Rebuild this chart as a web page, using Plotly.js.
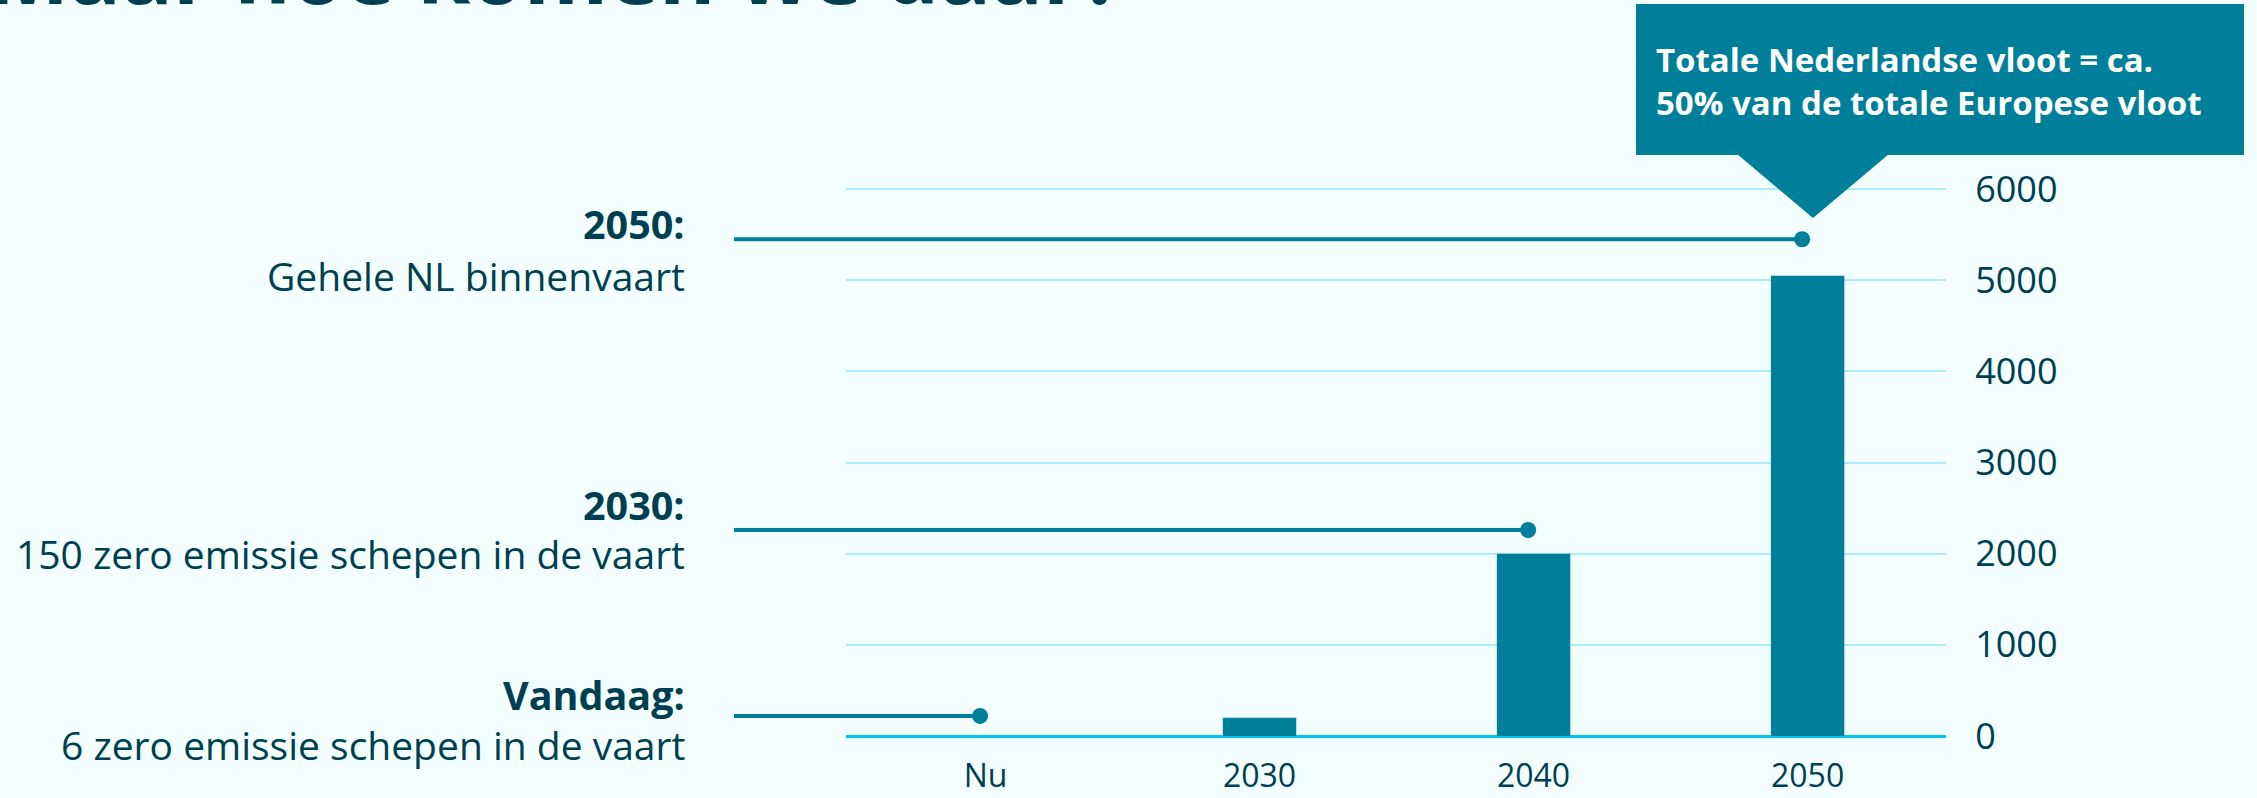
<!DOCTYPE html>
<html>
<head>
<meta charset="utf-8">
<script src="https://cdn.plot.ly/plotly-3.0.1.min.js"></script>
<style>
  html, body { margin: 0; padding: 0; background: #F3FEFF; }
  #chart { width: 2257px; height: 798px; }
</style>
</head>
<body>
<div id="chart"></div>
<script>
// ---- data ----
const categories = ['Nu', '2030', '2040', '2050'];
const fleetValues = [0, 200, 2000, 5050];
const yTickValues = [0, 1000, 2000, 3000, 4000, 5000, 6000];

const milestoneTitles = ['Vandaag:', '2030:', '2050:'];
const milestoneTexts = ['6 zero emissie schepen in de vaart', '150 zero emissie schepen in de vaart', 'Gehele NL binnenvaart'];
const milestoneValues = [220, 2260, 5450];
const milestoneCategories = ['Nu', '2040', '2050'];

const pageTitle = 'Maar hoe komen we daar?';
const calloutText = 'Totale Nederlandse vloot = ca.<br>50% van de totale Europese vloot';

// ---- layout helpers ----
const W = 2257, H = 798;
const px = x => x / W;
const py = y => 1 - y / H;

const TEAL = '#007F9A';
const DARK = '#003F50';
const BG = '#F3FEFF';
const FONT = 'Open Sans, Liberation Sans, Arial, sans-serif';

const xRange = [-0.509, 3.505];
const x2Range = [-0.918, 3.505];
const yRange = [0, 8075];

const catIndex = c => categories.indexOf(c);

const traces = [{
  type: 'bar',
  x: categories.map((c, i) => i),
  y: fleetValues,
  width: 0.268,
  marker: { color: TEAL, line: { width: 0 } },
  xaxis: 'x', yaxis: 'y',
  hoverinfo: 'skip'
}];

milestoneValues.forEach((v, i) => {
  traces.push({
    type: 'scatter',
    mode: 'lines+markers',
    x: [x2Range[0], catIndex(milestoneCategories[i]) - 0.02],
    y: [v, v],
    line: { color: TEAL, width: 4 },
    marker: { color: TEAL, size: [0, 16], opacity: 1, line: { width: 0 } },
    cliponaxis: false,
    xaxis: 'x2', yaxis: 'y2',
    hoverinfo: 'skip'
  });
});

const titleY = [695, 505, 224];
const textY = [744, 553, 275];

const annotations = [];
milestoneTitles.forEach((t, i) => {
  annotations.push({
    xref: 'paper', yref: 'paper', x: px(687), y: py(titleY[i]),
    xanchor: 'right', yanchor: 'middle', showarrow: false,
    text: '<b>' + t + '</b>',
    font: { family: FONT, size: 39.5, color: DARK }
  });
  annotations.push({
    xref: 'paper', yref: 'paper', x: px(687), y: py(textY[i]),
    xanchor: 'right', yanchor: 'middle', showarrow: false,
    text: milestoneTexts[i],
    font: { family: FONT, size: 39, color: DARK }
  });
});

annotations.push({
  xref: 'paper', yref: 'paper', x: px(1654), y: py(81),
  xanchor: 'left', yanchor: 'middle', align: 'left', showarrow: false,
  text: '<b>' + calloutText + '</b>',
  font: { family: FONT, size: 33, color: '#FFFFFF' }
});

// page heading, mostly above the visible area as in the reference
annotations.push({
  xref: 'paper', yref: 'paper', x: px(1125), y: py(-90),
  xanchor: 'right', yanchor: 'top', showarrow: false,
  text: '<b>' + pageTitle + '</b>',
  font: { family: FONT, size: 86, color: DARK }
});

const shapes = [
  { type: 'rect', xref: 'paper', yref: 'paper',
    x0: px(1636), x1: px(2244), y0: py(155), y1: py(4),
    fillcolor: TEAL, line: { width: 0 }, layer: 'above' },
  { type: 'path', xref: 'paper', yref: 'paper',
    path: `M ${px(1737)} ${py(154)} L ${px(1889)} ${py(154)} L ${px(1813)} ${py(218)} Z`,
    fillcolor: TEAL, line: { width: 0 }, layer: 'above' }
];

const layout = {
  width: W, height: H,
  margin: { l: 0, r: 0, t: 0, b: 0 },
  paper_bgcolor: BG,
  plot_bgcolor: 'rgba(0,0,0,0)',
  showlegend: false,
  font: { family: FONT, color: DARK },
  xaxis: {
    domain: [px(846), px(1946)],
    range: xRange,
    tickvals: categories.map((c, i) => i),
    ticktext: categories,
    ticks: 'outside', ticklen: 12, tickcolor: 'rgba(0,0,0,0)',
    tickfont: { family: FONT, size: 32, color: DARK },
    showgrid: false, zeroline: false, showline: false,
    fixedrange: true
  },
  yaxis: {
    domain: [62 / H, 1],
    range: yRange,
    side: 'right',
    tickvals: yTickValues,
    ticktext: yTickValues.map(String),
    ticks: 'outside', ticklen: 21, tickcolor: 'rgba(0,0,0,0)',
    tickfont: { family: FONT, size: 36, color: DARK },
    showgrid: true, gridcolor: '#ABEBFA', gridwidth: 2,
    zeroline: true, zerolinecolor: '#00C6F2', zerolinewidth: 3,
    showline: false, fixedrange: true
  },
  xaxis2: {
    domain: [px(734), px(1946)],
    range: x2Range,
    anchor: 'y2', visible: false, fixedrange: true
  },
  yaxis2: {
    domain: [62 / H, 1],
    matches: 'y',
    anchor: 'x2', visible: false, showgrid: false, zeroline: false, fixedrange: true
  },
  annotations: annotations,
  shapes: shapes
};

Plotly.newPlot('chart', traces, layout, { displayModeBar: false, staticPlot: true });
</script>
</body>
</html>
